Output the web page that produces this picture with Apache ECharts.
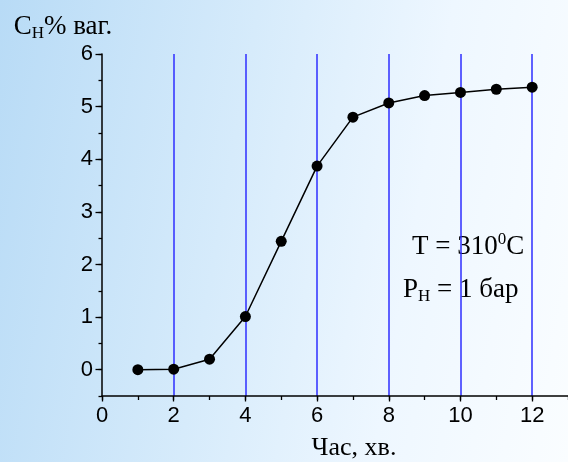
<!DOCTYPE html>
<html>
<head>
<meta charset="utf-8">
<script src="https://cdn.jsdelivr.net/npm/echarts@6/dist/echarts.min.js"></script>
<style>
  html, body { margin: 0; padding: 0; }
  #chart {
    width: 568px;
    height: 462px;
    background: linear-gradient(100deg, #b8dbf6 0%, #d6ebfb 40%, #eef7ff 70%, #fafdff 100%);
  }
</style>
</head>
<body>
<div id="chart"></div>
<script>
// час, хв.
const timeMin = [1, 2, 3, 4, 5, 6, 7, 8, 9, 10, 11, 12];
// вміст водню, % ваг.
const hydrogenPct = [0, 0.01, 0.2, 1.01, 2.44, 3.87, 4.8, 5.07, 5.21, 5.27, 5.33, 5.37];

const serif = '"Liberation Serif", "DejaVu Serif", serif';
const sans = '"Liberation Sans", Arial, sans-serif';

const chart = echarts.init(document.getElementById('chart'));

const option = {
  backgroundColor: 'transparent',
  animation: false,
  grid: { left: 102, right: 0, top: 54, bottom: 66, outerBoundsMode: 'none' },
  xAxis: [
    {
      // odd minute ticks
      type: 'value', position: 'bottom', min: 0, max: 13, interval: 1,
      axisLine: { onZero: false, lineStyle: { color: '#000', width: 1.5 } },
      axisTick: { length: 4, lineStyle: { color: '#000', width: 1.3 } },
      axisLabel: { show: false },
      splitLine: { show: false }
    },
    {
      type: 'value', position: 'bottom', min: 0, max: 13, interval: 2,
      axisLine: { show: false, onZero: false },
      axisTick: { length: 5.5, lineStyle: { color: '#000', width: 1.3 } },
      axisLabel: { color: '#000', fontFamily: sans, fontSize: 22, margin: 9, showMaxLabel: false },
      splitLine: { show: true, showMinLine: false, showMaxLine: false, lineStyle: { color: '#2e2eff', width: 1.5 } },
      name: 'Час, хв.',
      nameLocation: 'middle',
      nameGap: 39,
      nameTextStyle: { color: '#000', fontFamily: serif, fontSize: 26, padding: [0, 0, 0, 38] }
    }
  ],
  yAxis: [
    {
      // half-step ticks
      type: 'value', position: 'left', min: -0.5, max: 6, interval: 0.5,
      axisLine: { show: true, onZero: false, lineStyle: { color: '#000', width: 1.5 } },
      axisTick: { length: 3.5, lineStyle: { color: '#000', width: 1.3 } },
      axisLabel: { show: false },
      splitLine: { show: false }
    },
    {
      type: 'value', position: 'left', min: -0.5, max: 6, splitNumber: 6,
      axisLine: { show: false, onZero: false },
      axisTick: { length: 6.5, lineStyle: { color: '#000', width: 1.3 } },
      axisLabel: { color: '#000', fontFamily: sans, fontSize: 22, margin: 9, showMinLabel: false },
      splitLine: { show: false },
      name: 'C{sub|H}% ваг.',
      nameLocation: 'end',
      nameGap: 12,
      nameTextStyle: {
        color: '#000', fontFamily: serif, fontSize: 27, align: 'center',
        padding: [0, 78, 0, 0],
        rich: { sub: { fontFamily: serif, fontSize: 17, padding: [14, 0, 0, 0] } }
      }
    }
  ],
  graphic: [
    {
      type: 'text', left: 412, top: 231,
      style: {
        text: 'T = 310{sup|0}C',
        font: '27px ' + serif, fill: '#000',
        rich: { sup: { fontFamily: serif, fontSize: 17, fill: '#000', padding: [0, 0, 15, 0] } }
      }
    },
    {
      type: 'text', left: 403, top: 276,
      style: {
        text: 'P{sub|H} = 1 бар',
        font: '27px ' + serif, fill: '#000',
        rich: { sub: { fontFamily: serif, fontSize: 17, fill: '#000', padding: [15, 0, 0, 0] } }
      }
    }
  ],
  series: [
    {
      type: 'line',
      xAxisIndex: 0,
      yAxisIndex: 0,
      data: timeMin.map((t, i) => [t, hydrogenPct[i]]),
      symbol: 'circle',
      symbolSize: 11,
      itemStyle: { color: '#000' },
      lineStyle: { color: '#000', width: 1.5 }
    }
  ]
};

chart.setOption(option);
</script>
</body>
</html>
